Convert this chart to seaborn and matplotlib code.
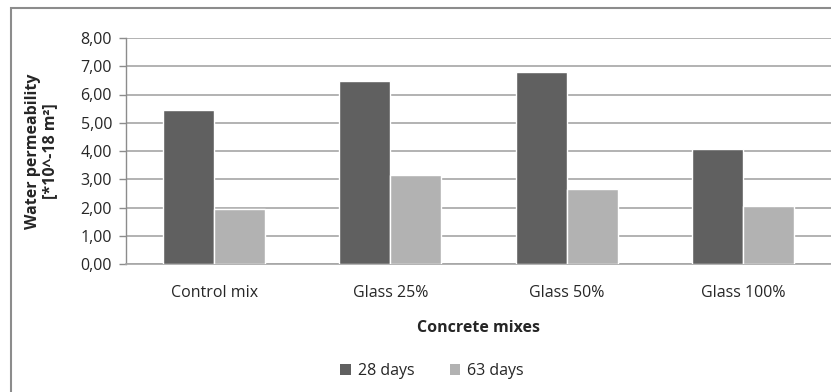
import matplotlib
matplotlib.use("Agg")
import matplotlib.pyplot as plt
import seaborn as sns
import pandas as pd
from matplotlib.patches import Patch, Rectangle
from matplotlib.ticker import FuncFormatter

categories = ["Control mix", "Glass 25%", "Glass 50%", "Glass 100%"]
days28 = [5.46, 6.49, 6.78, 4.08]
days63 = [1.95, 3.16, 2.66, 2.06]
series = ["28 days", "63 days"]
colors = ["#606060", "#b2b2b2"]

df = pd.DataFrame({
    "mix": categories * 2,
    "value": days28 + days63,
    "age": [series[0]] * 4 + [series[1]] * 4,
})

sns.set_style("white")
plt.rcParams["font.family"] = ["Open Sans", "DejaVu Sans"]
FS = 11.5

fig = plt.figure(figsize=(8.31, 3.92), dpi=100)
ax = fig.add_axes([126 / 831, 1 - 264 / 392, 1 - 126 / 831, (264 - 38) / 392])

sns.barplot(data=df, x="mix", y="value", hue="age", palette=colors,
            width=0.58, gap=0, saturation=1, ax=ax, legend=False, zorder=3)

ax.set_ylim(0, 8)
ax.set_xlim(-0.5, 3.5)
ax.set_yticks(range(0, 9))
ax.yaxis.set_major_formatter(FuncFormatter(lambda v, p: f"{v:.2f}".replace(".", ",")))
ax.grid(axis="y", color="#a6a6a6", linewidth=1.2, zorder=0)
ax.set_axisbelow(True)
for s in ["top", "right"]:
    ax.spines[s].set_visible(False)
ax.spines["left"].set_color("#8c8c8c")
ax.spines["bottom"].set_color("#a6a6a6")
ax.spines["left"].set_linewidth(1)
ax.spines["bottom"].set_linewidth(1.2)
ax.tick_params(axis="y", which="major", length=5, color="#8c8c8c", width=1,
               labelsize=FS, pad=5, left=True)
ax.tick_params(axis="x", length=0, labelsize=FS, pad=15)

ax.set_xlabel("Concrete mixes", fontsize=FS, fontweight="bold", labelpad=14)
ax.set_ylabel("Water permeability\n[*10^-18 m²]", fontsize=FS, fontweight="bold",
              labelpad=0, linespacing=1.05)
ax.yaxis.set_label_coords(-68 / 705, 0.5)

handles = [Patch(facecolor=c, edgecolor="none") for c in colors]
fig.legend(handles, series, loc="center", bbox_to_anchor=(432 / 831, 1 - 371 / 392),
           ncol=2, frameon=False, fontsize=FS, handlelength=0.65, handleheight=0.65,
           columnspacing=2.2, handletextpad=0.45)

fig.patches.append(Rectangle((11 / 831, -0.1), 1.2, 1 - 8 / 392 + 0.1,
                             transform=fig.transFigure, fill=False,
                             edgecolor="#8c8c8c", linewidth=1.5))

fig.savefig("out.png", dpi=100)
